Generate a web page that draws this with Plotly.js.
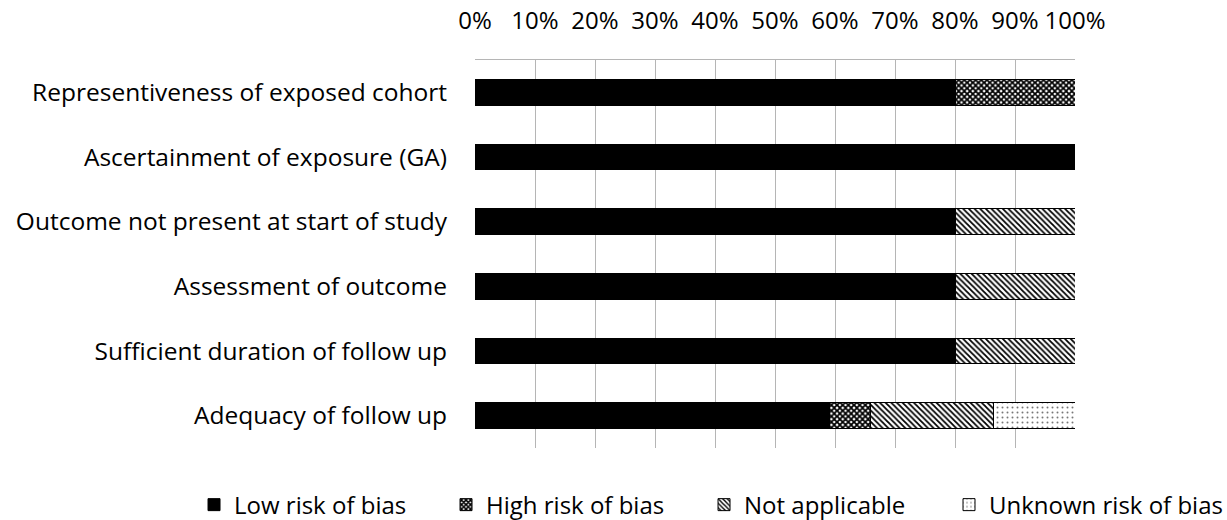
<!DOCTYPE html>
<html>
<head>
<meta charset="utf-8">
<script src="https://cdn.plot.ly/plotly-3.0.1.min.js"></script>
<style>html,body{margin:0;padding:0;background:#fff;}#chart{width:1227px;height:520px;}</style>
</head>
<body>
<div id="chart"></div>
<script>
const categories = [
  "Representiveness of exposed cohort",
  "Ascertainment of exposure (GA)",
  "Outcome not present at start of study",
  "Assessment of outcome",
  "Sufficient duration of follow up",
  "Adequacy of follow up"
];
const lowRisk     = [80, 100, 80, 80, 80, 59.1];
const highRisk    = [20, 0, 0, 0, 0, 6.8];
const notApplic   = [0, 0, 20, 20, 20, 20.5];
const unknownRisk = [0, 0, 0, 0, 0, 13.6];
const seriesNames = ["Low risk of bias", "High risk of bias", "Not applicable", "Unknown risk of bias"];
const tickVals = [0,10,20,30,40,50,60,70,80,90,100];

const FONT = "Open Sans, sans-serif";
const FS = 24;
const lineStyle = {color: "#000", width: 1};

const traces = [
  {name: seriesNames[0], values: lowRisk, legend: "legend",
   marker: {color: "#000", line: lineStyle}},
  {name: seriesNames[1], values: highRisk, legend: "legend2",
   marker: {color: "#fff", line: lineStyle,
     pattern: {shape: "x", fgcolor: "#000", bgcolor: "#fff", size: 4, solidity: 0.7}}},
  {name: seriesNames[2], values: notApplic, legend: "legend3",
   marker: {color: "#fff", line: lineStyle,
     pattern: {shape: "\\", fgcolor: "#000", bgcolor: "#fff", size: 4, solidity: 0.45}}},
  {name: seriesNames[3], values: unknownRisk, legend: "legend4",
   marker: {color: "#fff", line: lineStyle,
     pattern: {shape: ".", fgcolor: "#777", bgcolor: "#fff", size: 5, solidity: 0.12}}}
].map(s => ({
  type: "bar",
  orientation: "h",
  name: s.name,
  x: s.values,
  y: categories,
  marker: s.marker,
  legend: s.legend,
  hoverinfo: "x+name"
}));

function legendAt(xPaper) {
  return {
    orientation: "h",
    x: xPaper, xanchor: "left",
    y: -0.147, yanchor: "middle",
    font: {family: FONT, size: FS, color: "#000"},
    bgcolor: "rgba(0,0,0,0)",
    itemclick: false, itemdoubleclick: false
  };
}

const layout = {
  width: 1227, height: 520,
  margin: {l: 475, r: 152, t: 60, b: 72, autoexpand: false},
  paper_bgcolor: "#fff", plot_bgcolor: "#fff",
  barmode: "stack",
  bargap: 0.6,
  font: {family: FONT, size: FS, color: "#000"},
  xaxis: {
    side: "top",
    range: [0, 100],
    tickvals: tickVals,
    ticktext: tickVals.map(v => v + "%"),
    showgrid: true, gridcolor: "#b5b5b5", gridwidth: 1,
    showline: true, linecolor: "#b5b5b5", linewidth: 1,
    zeroline: false,
    ticks: "",
    ticklabelstandoff: 20,
    tickfont: {family: FONT, size: FS, color: "#000"},
    automargin: false,
    fixedrange: true
  },
  yaxis: {
    categoryorder: "array",
    categoryarray: categories,
    autorange: "reversed",
    showgrid: false, zeroline: false, showline: false,
    ticks: "",
    ticklabelstandoff: 27,
    tickfont: {family: FONT, size: 24.5, color: "#000"},
    automargin: false,
    fixedrange: true
  },
  showlegend: true,
  legend: legendAt(-0.4683),
  legend2: legendAt(-0.0483),
  legend3: legendAt(0.3817),
  legend4: legendAt(0.79)
};

Plotly.newPlot("chart", traces, layout, {displayModeBar: false, staticPlot: true});
</script>
</body>
</html>
